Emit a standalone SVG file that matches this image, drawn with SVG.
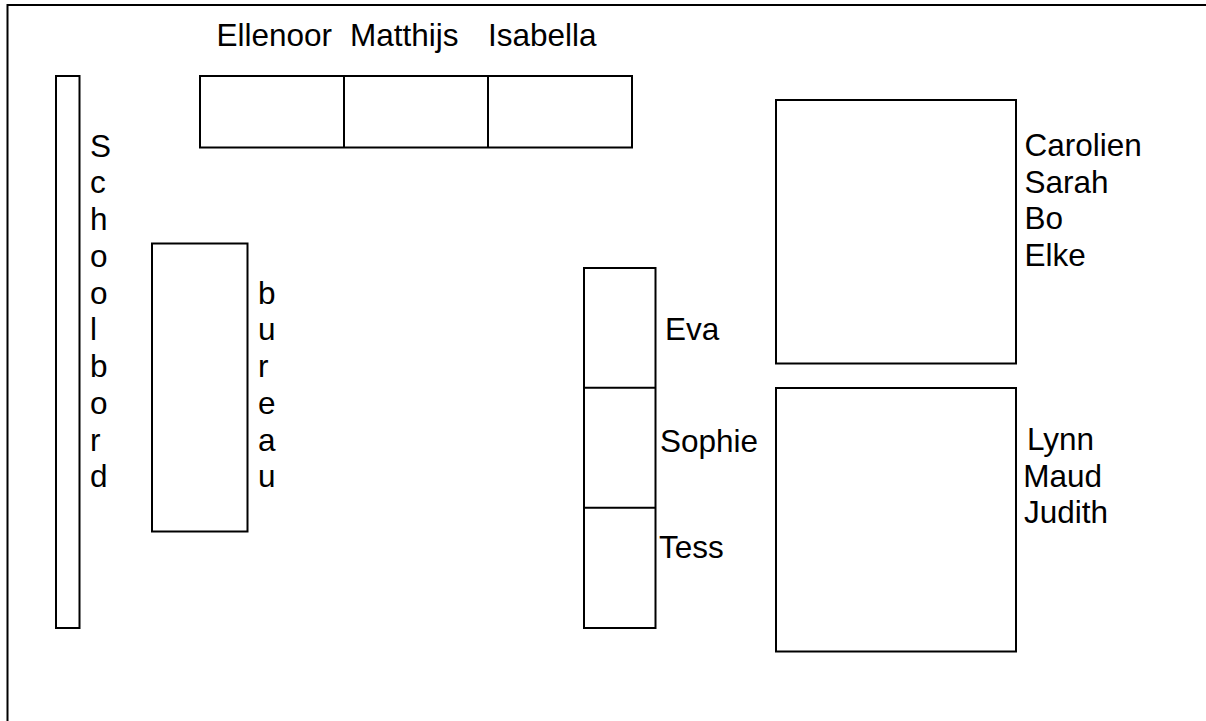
<svg xmlns="http://www.w3.org/2000/svg" width="1206" height="721" viewBox="0 0 1206 721">
<style>
.box{fill:#fff;stroke:#000;stroke-width:2}
.ln{stroke:#000;stroke-width:2;fill:none}
text{font-family:"Liberation Sans",Arial,sans-serif;font-size:31.5px;fill:#000}
</style>
<rect x="0" y="0" width="1206" height="721" fill="#fff"/>
<g id="frame">
<path class="ln" d="M7.5 721 V5 H1206"/>
</g>
<g id="schoolbord">
<rect class="box" x="56" y="76" width="23.5" height="552"/>
<text x="90" y="156.5">S</text>
<text x="90" y="193.2">c</text>
<text x="90" y="230">h</text>
<text x="90" y="266.7">o</text>
<text x="90" y="303.5">o</text>
<text x="90" y="340.2">l</text>
<text x="90" y="377">b</text>
<text x="90" y="413.7">o</text>
<text x="90" y="450.5">r</text>
<text x="90" y="487.2">d</text>
</g>
<g id="tafels-boven">
<rect class="box" x="200" y="76" width="432" height="71.5"/>
<path class="ln" d="M344 76 V147.5 M488 76 V147.5"/>
<text x="216.5" y="46">Ellenoor</text>
<text x="350" y="46">Matthijs</text>
<text x="488" y="46">Isabella</text>
</g>
<g id="bureau">
<rect class="box" x="152" y="243.5" width="95.5" height="288"/>
<text x="258" y="303.5">b</text>
<text x="258" y="340.2">u</text>
<text x="258" y="377">r</text>
<text x="258" y="413.7">e</text>
<text x="258" y="450.5">a</text>
<text x="258" y="487.2">u</text>
</g>
<g id="tafels-midden">
<rect class="box" x="584" y="268" width="71.5" height="360"/>
<path class="ln" d="M584 387.7 H655.5 M584 507.7 H655.5"/>
<text x="665" y="340">Eva</text>
<text x="660" y="452">Sophie</text>
<text x="659" y="558">Tess</text>
</g>
<g id="tafel-rechts-boven">
<rect class="box" x="776" y="100" width="240" height="263.5"/>
<text x="1024.5" y="156">Carolien</text>
<text x="1024.5" y="192.5">Sarah</text>
<text x="1024.5" y="229">Bo</text>
<text x="1024.5" y="265.5">Elke</text>
</g>
<g id="tafel-rechts-onder">
<rect class="box" x="776" y="388" width="240" height="263.5"/>
<text x="1027" y="450">Lynn</text>
<text x="1023.3" y="486.7">Maud</text>
<text x="1024" y="523.3">Judith</text>
</g>
<g id="connectors"></g>
</svg>
